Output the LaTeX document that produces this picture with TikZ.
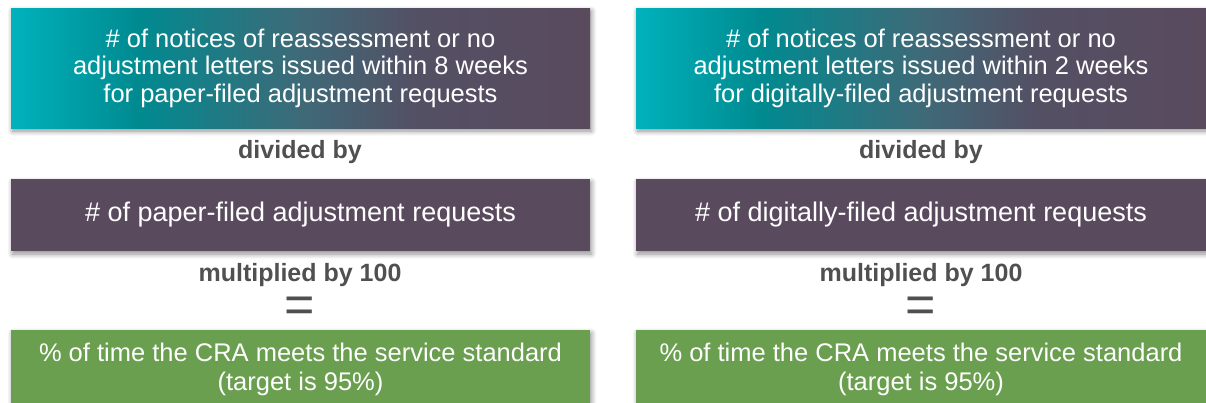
\documentclass[tikz,border=0pt]{standalone}
\usepackage{fontspec}
\setmainfont{Liberation Sans}
\usetikzlibrary{shadows.blur}

\definecolor{tealA}{RGB}{0,178,188}
\definecolor{tealB}{RGB}{0,138,144}
\definecolor{midC}{RGB}{62,106,120}
\definecolor{plumD}{RGB}{84,80,100}
\definecolor{plum}{RGB}{89,74,94}
\definecolor{leaf}{RGB}{106,159,79}
\definecolor{labelgray}{RGB}{80,80,80}

\pgfdeclarehorizontalshading{headgrad}{100bp}{%
  color(0bp)=(tealA); color(25bp)=(tealA); color(36bp)=(tealB);
  color(50bp)=(midC); color(60bp)=(plumD); color(75bp)=(plum); color(100bp)=(plum)}

\tikzset{
  card/.style={inner sep=0pt, align=center, text=white,
    blur shadow={shadow xshift=1.5pt, shadow yshift=-3pt, shadow blur radius=5pt,
      shadow blur steps=8, shadow opacity=45}},
  headcard/.style={card, shading=headgrad, font=\fontsize{25.5}{27.5}\selectfont},
  basecard/.style={card, fill=plum, font=\fontsize{27}{29}\selectfont},
  resultcard/.style={card, fill=leaf, font=\fontsize{25.5}{29}\selectfont},
  oplabel/.style={text=labelgray, font=\fontsize{25}{28}\selectfont\bfseries},
  eqsign/.style={text=labelgray, font=\fontsize{52}{52}\selectfont}
}

\begin{document}
\begin{tikzpicture}[x=1pt,y=-1pt]
\useasboundingbox (0,0) rectangle (1206,402);

% left column: paper-filed requests
\node[headcard, minimum width=579pt, minimum height=120pt] (numL) at (300.5,68)
  {\# of notices of reassessment or no\\adjustment letters issued within 8 weeks\\ for paper-filed adjustment requests};
\node[oplabel] (divL) at (300,152) {divided by};
\node[basecard, minimum width=579pt, minimum height=72pt] (denL) at (300.5,215)
  {\# of paper-filed adjustment requests};
\node[oplabel] (mulL) at (300,275) {multiplied by 100};
\node[eqsign] (eqL) at (300,310) {=};
\node[resultcard, minimum width=579pt, minimum height=78pt] (resL) at (300.5,369)
  {\% of time the CRA meets the service standard\\(target is 95\%)};

% right column: digitally-filed requests
\node[headcard, minimum width=570pt, minimum height=120pt] (numR) at (921,68)
  {\# of notices of reassessment or no\\adjustment letters issued within 2 weeks\\ for digitally-filed adjustment requests};
\node[oplabel] (divR) at (921,152) {divided by};
\node[basecard, minimum width=570pt, minimum height=72pt] (denR) at (921,215)
  {\# of digitally-filed adjustment requests};
\node[oplabel] (mulR) at (921,275) {multiplied by 100};
\node[eqsign] (eqR) at (921,310) {=};
\node[resultcard, minimum width=570pt, minimum height=78pt] (resR) at (921,369)
  {\% of time the CRA meets the service standard\\(target is 95\%)};
\end{tikzpicture}
\end{document}
